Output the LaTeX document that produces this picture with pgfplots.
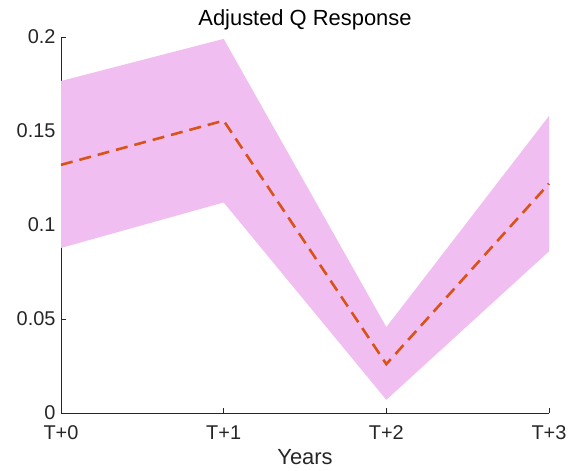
\documentclass[border=0pt]{standalone}
\usepackage{pgfplots}
\pgfplotsset{compat=1.18}
\usepackage{fontspec}
\setmainfont{Liberation Sans}
\definecolor{bandpink}{RGB}{240,190,240}
\definecolor{lineorange}{RGB}{217,83,25}
\definecolor{axgray}{RGB}{38,38,38}
\begin{document}
\begin{tikzpicture}
\useasboundingbox (-61bp,-58bp) rectangle (507bp,413bp);
\begin{axis}[
  at={(0,0)}, anchor=origin,
  scale only axis, width=488bp, height=376bp,
  xmin=0, xmax=3, ymin=0, ymax=0.2,
  axis x line*=bottom, axis y line*=left,
  axis line style={axgray, line width=0.6bp, -},
  xtick={0,1,2,3}, xticklabels={T+0,T+1,T+2,T+3},
  ytick={0,0.05,0.1,0.15,0.2},
  yticklabels={0,0.05,0.1,0.15,0.2},
  tick align=inside, major tick length=5bp,
  tick style={axgray, line width=0.6bp},
  ticklabel style={font=\fontsize{20}{22}\selectfont, text=axgray},
  /pgf/number format/assume math mode=true,
  xticklabel style={yshift=-9bp},
  yticklabel style={xshift=-2bp},
  xlabel={Years},
  xlabel style={font=\fontsize{22}{24}\selectfont, text=axgray, yshift=-3bp},
  title={Adjusted Q Response},
  title style={font=\fontsize{22}{24}\selectfont, text=black, yshift=-3bp},
  clip=false,
]
% confidence band: upper bound forward, lower bound backward
\addplot[fill=bandpink, draw=none] coordinates {
  (0,0.1766) (1,0.1990) (2,0.0457) (3,0.1580)
  (3,0.0860) (2,0.0070) (1,0.1120) (0,0.0878)
} -- cycle;
% point estimate
\addplot[lineorange, line width=2.6bp, dash pattern=on 12bp off 7bp] coordinates {
  (0,0.1320) (1,0.1555) (2,0.0260) (3,0.1220)
};
\end{axis}
\end{tikzpicture}
\end{document}
